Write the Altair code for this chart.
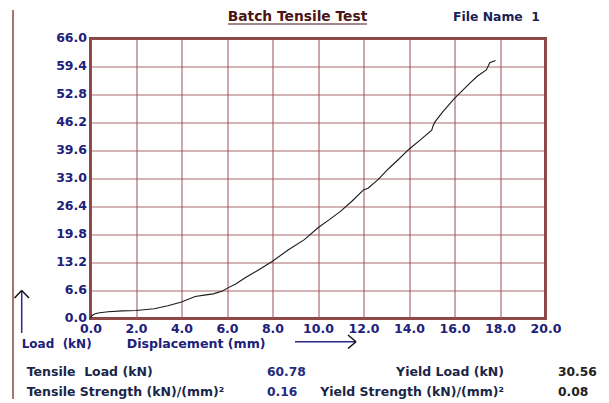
import altair as alt
import pandas as pd

# ---- data ----
displacement = [0.0, 0.05, 0.15, 0.33, 0.77, 1.4, 2.0, 2.8, 3.4, 4.0, 4.6, 5.0, 5.4, 5.8,
                6.0, 6.4, 6.8, 7.4, 8.0, 8.7, 9.4, 10.0, 10.5, 11.0, 11.5, 12.0, 12.2,
                12.65, 13.1, 13.5, 14.0, 14.5, 15.0, 15.05, 15.15, 15.5, 16.0, 16.4,
                16.7, 17.0, 17.4, 17.55, 17.8]
load = [0.0, 0.6, 1.0, 1.3, 1.6, 1.8, 1.9, 2.3, 3.0, 3.9, 5.2, 5.5, 5.8, 6.5,
        7.1, 8.2, 9.6, 11.5, 13.5, 16.2, 18.6, 21.4, 23.3, 25.3, 27.7, 30.3, 30.7,
        32.8, 35.3, 37.3, 39.9, 42.1, 44.4, 45.3, 46.4, 48.8, 51.9, 54.0,
        55.6, 57.1, 58.6, 60.3, 60.8]

x_ticks = [0, 2, 4, 6, 8, 10, 12, 14, 16, 18, 20]
y_ticks = [0, 6.6, 13.2, 19.8, 26.4, 33.0, 39.6, 46.2, 52.8, 59.4, 66.0]

title_text = "Batch Tensile Test"
file_text = "File Name\u00a0\u00a01"
y_title = "Load\u00a0 (kN)"
x_title = "Displacement (mm)"
summary_labels = ["Tensile\u00a0 Load (kN)", "Tensile Strength (kN)/(mm)\u00b2",
                  "Yield Load (kN)", "Yield Strength (kN)/(mm)\u00b2"]
summary_values = ["60.78", "0.16", "30.56", "0.08"]

df = pd.DataFrame({"disp": displacement, "load": load})

FONT = "DejaVu Sans"
NAVY = "#20207a"
DARK = "#1a2648"
GRID = "#9a5050"
FRAME = "#8a4444"
W, H = 455, 280

line = alt.Chart(df).mark_line(color="#1a1a1a", strokeWidth=1.1).encode(
    x=alt.X("disp:Q", scale=alt.Scale(domain=[0, 20], nice=False, zero=False),
            axis=alt.Axis(values=x_ticks, format=".1f", title=None, grid=True,
                          gridColor=GRID, gridWidth=1, domain=False, ticks=False,
                          labelPadding=4, labelFont=FONT, labelFontWeight="bold",
                          labelFontSize=12.5, labelColor=NAVY, labelFlush=False,
                          labelOverlap=False)),
    y=alt.Y("load:Q", scale=alt.Scale(domain=[0, 66], nice=False, zero=False),
            axis=alt.Axis(values=y_ticks, format=".1f", title=None, grid=True,
                          gridColor=GRID, gridOpacity=0.85, gridWidth=1, domain=False,
                          ticks=False, labelPadding=4, labelOffset=-1, labelFont=FONT,
                          labelFontWeight="bold", labelFontSize=12.5, labelColor=NAVY,
                          labelFlush=False, labelOverlap=False)),
)


def txt(s, x, y, color, align="left", size=12.5):
    return alt.Chart(alt.Data(values=[{"t": s}])).mark_text(
        font=FONT, fontWeight="bold", fontSize=size, color=color, align=align,
        baseline="middle").encode(x=alt.value(x), y=alt.value(y), text="t:N")


def seg(x1, y1, x2, y2, color, width=1.5):
    return alt.Chart(alt.Data(values=[{}])).mark_rule(color=color, strokeWidth=width).encode(
        x=alt.value(x1), y=alt.value(y1), x2=alt.value(x2), y2=alt.value(y2))


layers = [
    line,
    # left vertical border line
    seg(-77.5, -28.5, -77.5, 375, FRAME, 1.5),
    # title + underline
    txt(title_text, 207, -21.5, "#4a1515", "center", 13.8),
    seg(137.5, -14.5, 276.5, -14.5, "#4a1515", 1.2),
    txt(file_text, 362.5, -21.5, "#1a1f55", "left", 12.4),
    # up arrow
    seg(-68.8, 252, -68.8, 294.5, "#2a2a8a", 1.5),
    seg(-76, 259.5, -68.8, 252, "#111111", 1.5),
    seg(-61.5, 259.5, -68.8, 252, "#111111", 1.5),
    # right arrow
    seg(204.5, 303.2, 265.5, 303.2, "#2a2a8a", 1.5),
    seg(257.5, 296.5, 265.5, 303.2, "#111111", 1.5),
    seg(257.5, 310, 265.5, 303.2, "#111111", 1.5),
    # axis captions
    txt(y_title, -68.8, 305.5, NAVY, "left", 12),
    txt(x_title, 36.2, 305.5, NAVY, "left", 12.6),
    # summary rows
    txt(summary_labels[0], -63.8, 333.5, DARK),
    txt(summary_values[0], 176.5, 333.5, "#1f2a80", "left", 12.3),
    txt(summary_labels[2], 413.5, 333.5, DARK, "right"),
    txt(summary_values[2], 467.5, 333.5, "#222222", "left", 12.3),
    txt(summary_labels[1], -63.8, 353.2, DARK),
    txt(summary_values[1], 176.5, 353.2, "#1f2a80", "left", 12.3),
    txt(summary_labels[3], 413.5, 353.2, DARK, "right"),
    txt(summary_values[3], 467.5, 353.2, "#222222", "left", 12.3),
]

chart = alt.layer(*layers).properties(
    width=W, height=H,
    autosize=alt.AutoSizeParams(type="none"),
    padding={"left": 82.5, "top": 30.5, "right": 55.5, "bottom": 80},
    background="white",
).configure_view(stroke=FRAME, strokeWidth=3)

chart.save("out.html", embed_options={"renderer": "svg", "actions": False})
